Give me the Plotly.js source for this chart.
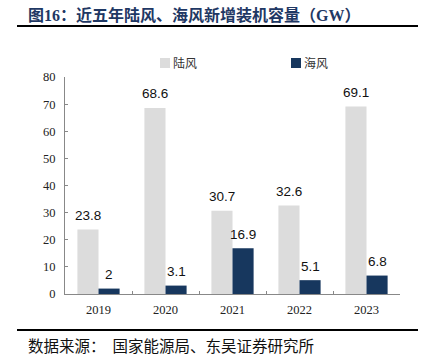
<!DOCTYPE html>
<html><head><meta charset="utf-8">
<script src="https://cdn.plot.ly/plotly-3.0.1.min.js"></script>
<style>html,body{margin:0;padding:0;background:#fff}#c{width:422px;height:362px}</style>
</head><body><div id="c"></div>
<script>
const years = ['2019','2020','2021','2022','2023'];
const onshore = [23.8, 68.6, 30.7, 32.6, 69.1];
const offshore = [2, 3.1, 16.9, 5.1, 6.8];
const seriesNames = ['陆风','海风'];
const seriesColors = ['#DCDCDC','#17375E'];
const yTicks = [0,10,20,30,40,50,60,70,80];

const W=422,H=362,L=65,R=22,T=77,B=68;
const pw=W-L-R, ph=H-T-B;
const px=x=>(x-L)/pw, py=y=>(H-B-y)/ph;
const BARGAP=0.37;
const barW = pw/years.length*(1-BARGAP)/2;

const traces = [
 {type:'bar',name:seriesNames[0],x:years,y:onshore,marker:{color:seriesColors[0]},showlegend:false},
 {type:'bar',name:seriesNames[1],x:years,y:offshore,marker:{color:seriesColors[1]},showlegend:false},
 {type:'scatter',mode:'markers',name:seriesNames[0],x:[years[0]],y:[null],
  marker:{symbol:'square',size:10,color:seriesColors[0]}},
 {type:'scatter',mode:'markers',name:seriesNames[1],x:[years[0]],y:[null],
  marker:{symbol:'square',size:10,color:seriesColors[1]}}
];
const labelFont={family:'Liberation Sans, Arial',size:13.5,color:'#111'};
const ann=[];
[onshore,offshore].forEach((arr,si)=>{
  arr.forEach((v,i)=>ann.push({x:i,y:v,xref:'x',yref:'y',text:String(v),showarrow:false,
    xshift:(si===0?-1:1)*barW/2,yshift:14,yanchor:'middle',font:labelFont}));
});
ann.push({xref:'paper',yref:'paper',x:px(26),y:py(15),xanchor:'left',yanchor:'middle',showarrow:false,
   text:'<b>图16：近五年陆风、海风新增装机容量（GW）</b>',
   font:{family:'Liberation Serif, Noto Sans CJK SC',size:16,color:'#1F3864'}});
ann.push({xref:'paper',yref:'paper',x:px(26),y:py(345),xanchor:'left',yanchor:'middle',showarrow:false,
   text:'数据来源：&nbsp;&nbsp;国家能源局、东吴证券研究所',
   font:{family:'Noto Sans CJK SC',size:15.5,color:'#111'}});

const legFont={family:'Noto Sans CJK SC',size:12,color:'#333'};
const layout = {
 width:W,height:H,margin:{l:L,r:R,t:T,b:B},
 paper_bgcolor:'#fff',plot_bgcolor:'#fff',
 barmode:'group',bargap:BARGAP,bargroupgap:0,
 showlegend:true,
 legend:{orientation:'h',x:px(145),xanchor:'left',y:py(63),yanchor:'middle',font:legFont,
   bgcolor:'rgba(0,0,0,0)',entrywidth:86,entrywidthmode:'pixels',traceorder:'normal'},
 xaxis:{type:'category',categoryorder:'array',categoryarray:years,range:[-0.5,years.length-0.5],
   showline:true,linecolor:'#888',linewidth:1,ticks:'inside',ticklen:3,
   tickcolor:'#888',tickson:'boundaries',showgrid:false,ticklabelstandoff:4,
   tickfont:{family:'Liberation Serif, Times New Roman',size:12.5,color:'#222'}},
 yaxis:{range:[0,80],tickvals:yTicks,showline:true,linecolor:'#888',linewidth:1,ticks:'inside',ticklen:3,
   tickcolor:'#888',showgrid:false,zeroline:false,ticklabelstandoff:6,
   tickfont:{family:'Liberation Serif, Times New Roman',size:12.5,color:'#222'}},
 shapes:[
  {type:'line',xref:'paper',yref:'paper',x0:px(17),x1:px(418),y0:py(26),y1:py(26),line:{color:'#000',width:2}},
  {type:'line',xref:'paper',yref:'paper',x0:px(17),x1:px(418),y0:py(330),y1:py(330),line:{color:'#000',width:2}}
 ],
 annotations:ann
};
function fixLegend(gd){gd.querySelectorAll('.legendtext').forEach(t=>t.setAttribute('x','28'));}
Plotly.newPlot('c',traces,layout,{staticPlot:true,displayModeBar:false}).then(gd=>{
  fixLegend(gd); setTimeout(()=>fixLegend(gd),50);
});
</script></body></html>
